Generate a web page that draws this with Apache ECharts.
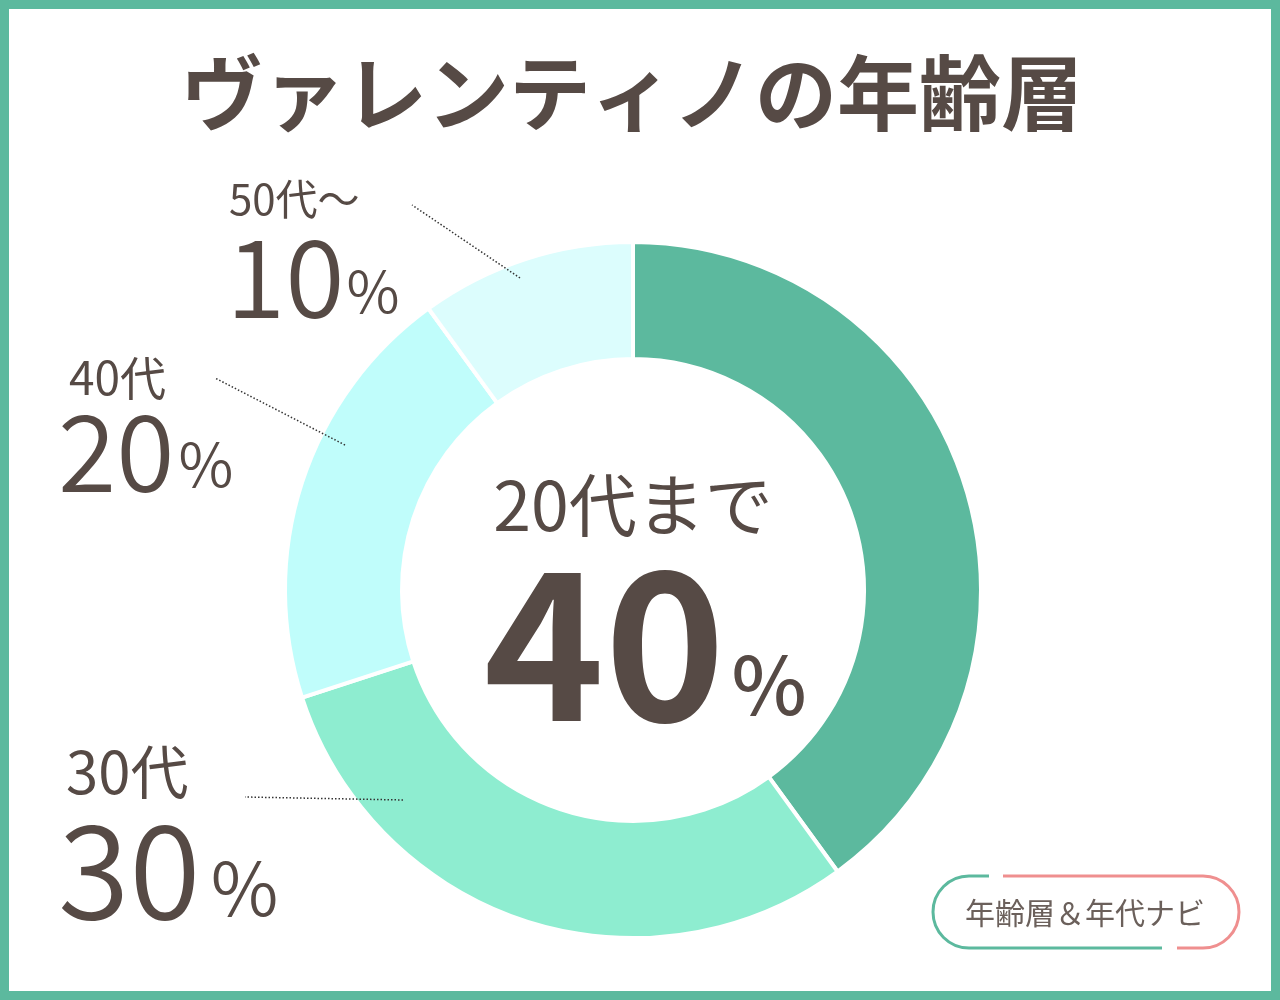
<!DOCTYPE html>
<html><head><meta charset="utf-8">
<script src="https://cdn.jsdelivr.net/npm/echarts@6/dist/echarts.min.js"></script>
<style>html,body{margin:0;padding:0;background:#fff}#main{width:1280px;height:1000px}</style>
</head><body><div id="main"></div>
<script>
// ---- data ----
const titleText = 'ヴァレンティノの年齢層';
const categories = ['20代まで', '30代', '40代', '50代～'];
const values = [40, 30, 20, 10];
const sliceColors = ['#5cb99e', '#8eedd0', '#c0fdfb', '#dcfdfd'];
const badgeText = '年齢層＆年代ナビ';

// ---- styling ----
const TXT = '#564a45';
const FONT = '"Noto Sans CJK JP", "Noto Sans", sans-serif';
const GREEN = '#5cb99e';
const PINK = '#ef8f8f';

// per-slice label styling/placement (index aligned with categories)
const labelStyles = [
  null,
  { x: 58, y: 739, cat: 58, catLH: 66, catPad: 8, val: 130, pct: 74, pctPad: 10, pctLeft: 10,
    guide: [[403, 800], [245, 797]] },
  { x: 58, y: 357, cat: 46, catLH: 42, catPad: 11, val: 106, pct: 60, pctPad: 11, pctLeft: 4,
    guide: [[345, 445], [215, 378]] },
  { x: 226, y: 176, cat: 42, catLH: 47, catPad: 3, val: 108, pct: 58, pctPad: 11, pctLeft: 2,
    guide: [[520, 278], [412, 205]] }
];

const pieData = categories.map((name, i) => {
  const item = { name: name, value: values[i], itemStyle: { color: sliceColors[i] } };
  if (i === 0) {
    item.label = {
      show: true, position: 'center',
      formatter: '{a|{b}}\n{big|{c}}{pct|%}',
      rich: {
        a: { fontSize: 68, lineHeight: 106, color: TXT, fontFamily: FONT, fontWeight: 400 },
        big: { fontSize: 205, lineHeight: 170, fontWeight: 'bold', color: TXT, fontFamily: FONT, padding: [0, 0, 0, 24] },
        pct: { fontSize: 80, color: TXT, fontFamily: FONT, fontWeight: 500, verticalAlign: 'bottom', padding: [0, 0, 3, 6] }
      }
    };
  } else {
    const s = labelStyles[i];
    item.label = {
      show: true, position: 'outside',
      formatter: '{cat|{b}}\n{val|{c}}{pct|%}',
      align: 'left',
      rich: {
        cat: { fontSize: s.cat, lineHeight: s.catLH, color: TXT, fontFamily: FONT, fontWeight: 400, padding: [0, 0, 0, s.catPad], align: 'left' },
        val: { fontSize: s.val, lineHeight: s.val, color: TXT, fontFamily: FONT, fontWeight: 350, align: 'left' },
        pct: { fontSize: s.pct, color: TXT, fontFamily: FONT, fontWeight: 350, verticalAlign: 'bottom', padding: [0, 0, s.pctPad, s.pctLeft] }
      }
    };
  }
  item.labelLine = { show: false };
  return item;
});

// dotted leader lines (annotations linking each outer label to its slice)
const leaderLines = labelStyles.filter(Boolean).map(s => ({
  type: 'polyline', z: 50,
  shape: { points: s.guide },
  style: { stroke: '#333333', lineWidth: 1.5, lineDash: [1.5, 2], fill: 'none' }
}));

const chart = echarts.init(document.getElementById('main'), null, { renderer: 'canvas' });
chart.setOption({
  backgroundColor: '#ffffff',
  animation: false,
  title: {
    text: titleText,
    left: 632, top: 52, textAlign: 'center', padding: 0,
    textStyle: { fontSize: 82, fontWeight: 'bold', color: TXT, fontFamily: FONT }
  },
  series: [{
    type: 'pie',
    center: [633, 590],
    radius: [231, 348],
    startAngle: 90,
    clockwise: true,
    silent: true,
    emphasis: { disabled: true },
    itemStyle: { borderColor: '#ffffff', borderWidth: 4 },
    labelLayout: function (p) {
      const s = labelStyles[p.dataIndex];
      if (!s) return {};
      return { x: s.x, y: s.y, align: 'left', verticalAlign: 'top' };
    },
    data: pieData
  }],
  graphic: [
    { type: 'rect', shape: { x: 0, y: 0, width: 1280, height: 1000 },
      style: { fill: 'none', stroke: GREEN, lineWidth: 18 }, z: 100 },
    ...leaderLines,
    { type: 'arc', shape: { cx: 969, cy: 912, r: 36, startAngle: Math.PI / 2, endAngle: Math.PI * 1.5, clockwise: true },
      style: { fill: 'none', stroke: GREEN, lineWidth: 3 } },
    { type: 'line', shape: { x1: 969, y1: 876, x2: 989, y2: 876 }, style: { stroke: GREEN, lineWidth: 3 } },
    { type: 'line', shape: { x1: 969, y1: 948, x2: 1162, y2: 948 }, style: { stroke: GREEN, lineWidth: 3 } },
    { type: 'line', shape: { x1: 1003, y1: 876, x2: 1203, y2: 876 }, style: { stroke: PINK, lineWidth: 3 } },
    { type: 'arc', shape: { cx: 1203, cy: 912, r: 36, startAngle: -Math.PI / 2, endAngle: Math.PI / 2, clockwise: true },
      style: { fill: 'none', stroke: PINK, lineWidth: 3 } },
    { type: 'line', shape: { x1: 1177, y1: 948, x2: 1203, y2: 948 }, style: { stroke: PINK, lineWidth: 3 } },
    { type: 'text', x: 1085, y: 913,
      style: { text: badgeText, fontSize: 30, fill: '#6b605b', fontFamily: FONT, align: 'center', verticalAlign: 'middle' } }
  ]
});
</script>
</body></html>
